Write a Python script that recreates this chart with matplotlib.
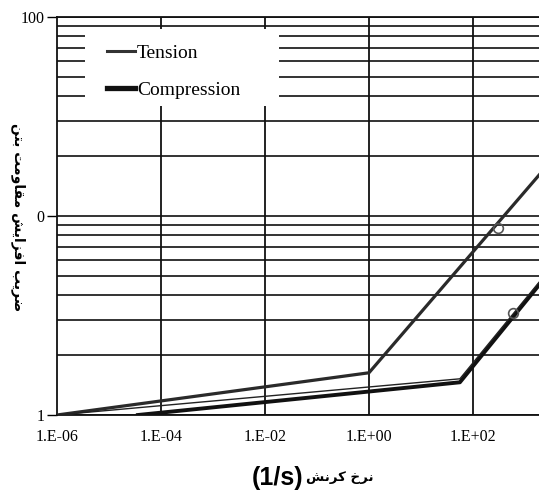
import matplotlib
matplotlib.use("Agg")
import matplotlib.pyplot as plt
from matplotlib.patches import Rectangle
from matplotlib.lines import Line2D

# ---- data ----
tension_x = [1e-6, 1.0, 2000.0]
tension_y = [1.0, 1.63, 16.4]
comp_x = [3.6e-5, 56.0, 2000.0]
comp_y = [1.0, 1.46, 4.6]
comp2_x = [1e-6, 56.0, 2000.0]
comp2_y = [1.0, 1.52, 4.75]
tension_mark_x = [300.0]
tension_mark_y = [8.7]
comp_mark_x = [590.0]
comp_mark_y = [3.26]

xticks = [1e-6, 1e-4, 1e-2, 1e0, 1e2]
xtick_labels = ["1.E-06", "1.E-04", "1.E-02", "1.E+00", "1.E+02"]
yticks = [1, 10, 100]
ytick_labels = ["1", "0", "100"]
legend_labels = ["Tension", "Compression"]

# Persian text built from Arabic presentation forms (logical order), then reversed for display
ylabel_forms = [0xFEBF, 0xFEAE, 0xFEF3, 0xFE90, 0x20,
                0xFE8D, 0xFED3, 0xFEB0, 0xFE8D, 0xFEF3, 0xFEB6, 0x20,
                0xFEE3, 0xFED8, 0xFE8E, 0xFEED, 0xFEE3, 0xFE96, 0x20,
                0xFE91, 0xFE98, 0xFEE6]
xlabel_forms = [0xFEE7, 0xFEAE, 0xFEA5, 0x20, 0xFEDB, 0xFEAE, 0xFEE7, 0xFEB6]
ylabel_text = "".join(chr(c) for c in ylabel_forms)[::-1]
xlabel_fa = "".join(chr(c) for c in xlabel_forms)[::-1]
xlabel_unit = "(1/s)"

W, H = 539, 494
fig = plt.figure(figsize=(W / 100, H / 100), dpi=100)
ax = fig.add_axes([57 / W, (H - 415) / H, 1 - 57 / W, (415 - 17) / H])
ax.set_xscale("log")
ax.set_yscale("log")
ax.set_xlim(1e-6, 10 ** 3.27)
ax.set_ylim(1, 100)

# grid
ax.set_axisbelow(True)
ax.yaxis.grid(True, which="both", color="#111111", lw=1.2)
for xv in xticks[1:]:
    ax.axvline(xv, color="#111111", lw=1.3, zorder=0.8)

ax.set_xticks(xticks)
ax.set_xticklabels(xtick_labels)
ax.xaxis.set_minor_locator(matplotlib.ticker.NullLocator())
ax.set_yticks(yticks)
ax.set_yticklabels(ytick_labels)
ax.tick_params(axis="x", length=0, pad=10, labelsize=11.5)
ax.tick_params(axis="y", which="major", length=7, width=1, direction="out", pad=2, labelsize=11.5)
ax.tick_params(axis="y", which="minor", length=0)
for lab in ax.get_xticklabels() + ax.get_yticklabels():
    lab.set_fontfamily("Liberation Serif")
for s in ["left", "bottom", "top"]:
    ax.spines[s].set_linewidth(1.3)
    ax.spines[s].set_color("#111111")
ax.spines["right"].set_visible(False)

# white legend box covering grid
ax.add_patch(Rectangle((0.058, 0.776), 0.403, 0.194, transform=ax.transAxes,
                       facecolor="white", edgecolor="none", zorder=1.5))

ax.plot(tension_x, tension_y, color="#2a2a2a", lw=2.3, zorder=3)
ax.plot(comp_x, comp_y, color="#111111", lw=2.8, zorder=3)
ax.plot(comp2_x, comp2_y, color="#222222", lw=1.0, zorder=3)
ax.plot(tension_mark_x, tension_mark_y, "o", ms=7, mfc="none", mec="#555555", mew=1.2, zorder=4)
ax.plot(comp_mark_x, comp_mark_y, "o", ms=7, mfc="none", mec="#555555", mew=1.2, zorder=4)

h1 = Line2D([], [], color="#333333", lw=2.2)
h2 = Line2D([], [], color="#111111", lw=3.8)
leg = ax.legend([h1, h2], legend_labels, loc="upper left", bbox_to_anchor=(0.104, 0.932),
                frameon=False, handlelength=1.44, handletextpad=0.1, labelspacing=0.99,
                prop={"family": "Liberation Serif", "size": 14}, borderaxespad=0, borderpad=0)
leg.set_zorder(5)

fig.text(303 / W, (H - 478) / H, xlabel_unit, ha="right", va="center",
         fontsize=18, fontweight="bold", family=["Liberation Sans", "DejaVu Sans"])
fig.text(306 / W, (H - 477) / H, xlabel_fa, ha="left", va="center",
         fontsize=9.5, fontweight="bold", family=["DejaVu Sans"])
fig.text(18 / W, (H - 217) / H, ylabel_text, ha="center", va="center", rotation=270,
         fontsize=10, fontweight="bold", family=["DejaVu Sans"])

fig.savefig("out.png", dpi=100)
